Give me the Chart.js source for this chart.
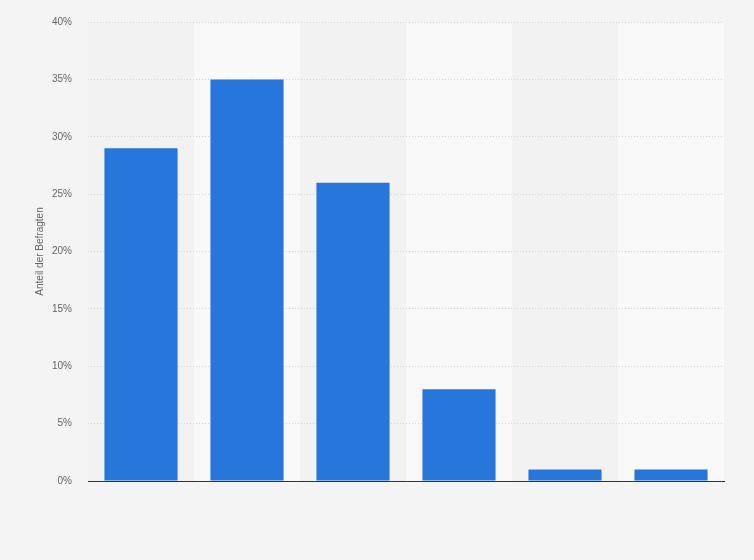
<!DOCTYPE html>
<html>
<head>
    <meta charset="UTF-8" />
    <script src="https://cdn.jsdelivr.net/npm/chart.js@4.4.0/dist/chart.umd.min.js"></script>
    <style>
        html, body { margin: 0; padding: 0; background: #f4f4f4; }
        #wrap { width: 754px; height: 560px; }
    </style>
</head>
<body>
    <div id="wrap"><canvas id="chart"></canvas></div>

    <script>
        const categories = ['A', 'B', 'C', 'D', 'E', 'F'];
        const shares = [29, 35, 26, 8, 1, 1];
        const yTicks = [0, 5, 10, 15, 20, 25, 30, 35, 40];

        // alternating column shading behind the bars
        const columnBands = {
            id: 'columnBands',
            beforeDraw(chart) {
                const { ctx, chartArea, scales } = chart;
                const x = scales.x;
                const w = (chartArea.right - chartArea.left) / categories.length;
                ctx.save();
                categories.forEach((c, i) => {
                    ctx.fillStyle = i % 2 === 0 ? '#f2f2f2' : '#f9f9f9';
                    ctx.fillRect(x.getPixelForValue(i) - w / 2, chartArea.top, w, chartArea.bottom - chartArea.top);
                });
                ctx.restore();
            }
        };

        new Chart(document.getElementById('chart'), {
            type: 'bar',
            data: {
                labels: categories,
                datasets: [{
                    data: shares,
                    backgroundColor: '#2776dc',
                    borderWidth: 0,
                    barPercentage: 0.69,
                    categoryPercentage: 1
                }]
            },
            options: {
                responsive: true,
                maintainAspectRatio: false,
                animation: false,
                layout: { padding: { left: 0, right: 30, top: 14, bottom: 71 } },
                plugins: { legend: { display: false }, tooltip: { enabled: false } },
                scales: {
                    x: {
                        grid: { display: false },
                        border: { display: true, color: '#333', width: 1 },
                        ticks: { display: false }
                    },
                    y: {
                        min: 0,
                        max: 40,
                        afterBuildTicks(scale) { scale.ticks = yTicks.map(v => ({ value: v })); },
                        afterFit(scale) { scale.width = 88; },
                        grid: { color: '#d4d4d4', drawTicks: false },
                        border: { display: false, dash: [1, 2] },
                        ticks: {
                            padding: 16,
                            color: '#666',
                            font: { family: 'Liberation Sans, Arial', size: 10 },
                            callback: v => v + '%'
                        },
                        title: {
                            display: true,
                            text: 'Anteil der Befragten',
                            color: '#666',
                            font: { family: 'Liberation Sans, Arial', size: 10 },
                            padding: { top: 34, bottom: 0 }
                        }
                    }
                }
            },
            plugins: [columnBands]
        });
    </script>
</body>
</html>
